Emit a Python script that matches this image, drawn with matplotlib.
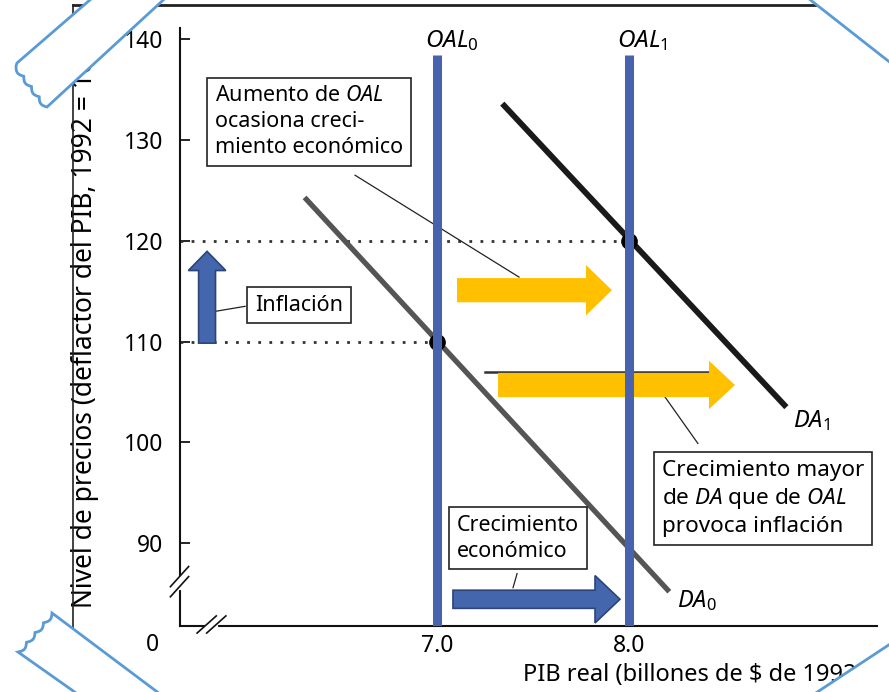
import matplotlib
matplotlib.use("Agg")
import matplotlib.pyplot as plt
import numpy as np
from matplotlib.patches import FancyArrow, Polygon
from matplotlib.lines import Line2D

plt.rcParams["font.family"] = ["Noto Sans", "DejaVu Sans"]
plt.rcParams["mathtext.fontset"] = "custom"
plt.rcParams["mathtext.rm"] = "Noto Sans"
plt.rcParams["mathtext.it"] = "Noto Sans:italic"

# --- data ---------------------------------------------------------------------
y_ticks = [90, 100, 110, 120, 130, 140]
x_ticks = [7.0, 8.0]
x_tick_labels = ["7.0", "8.0"]

oal_x = [7.0, 8.0]
oal_labels = [r"$OAL_0$", r"$OAL_1$"]
oal_top = 138.4

da0_x = [6.31, 8.21]
da0_y = [124.3, 85.2]
da1_x = [7.34, 8.82]
da1_y = [133.6, 103.5]

eq_x = [7.0, 8.0]
eq_y = [110, 120]

# horizontal arrows: tail x, tip x, y, head width
yellow_tail = [7.104, 7.318]
yellow_tip = [7.911, 8.552]
yellow_y = [115.1, 105.7]
yellow_head_w = [5.0, 4.8]
growth_tail, growth_tip, growth_y = 7.083, 7.953, 84.45
infl_x, infl_tail, infl_tip = 5.802, 109.85, 118.95

XMIN, XMAX = 5.661, 9.292
YMIN, YMAX = 81.8, 141.1

W, H = 889, 692


def fpx(x, y):
    """pixel position -> figure fraction (for the tape decorations)."""
    return (x / W, 1 - y / H)


def wavy(p0, p1, n=4, amp=3.0):
    p0, p1 = np.array(p0, float), np.array(p1, float)
    t = np.linspace(0, 1, n * 8 + 1)
    d = p1 - p0
    nrm = np.array([-d[1], d[0]]) / np.hypot(*d)
    pts = p0 + np.outer(t, d) + np.outer(amp * np.abs(np.sin(np.pi * n * t)), nrm)
    return [tuple(p) for p in pts]


fig = plt.figure(figsize=(W / 100, H / 100), dpi=100)
ax = fig.add_axes([180 / W, (H - 626) / H, (877 - 180) / W, (626 - 28) / H])
ax.set_xlim(XMIN, XMAX)
ax.set_ylim(YMIN, YMAX)
for s in ("top", "right"):
    ax.spines[s].set_visible(False)
for s in ("left", "bottom"):
    ax.spines[s].set_linewidth(1.5)
    ax.spines[s].set_color("#111111")

ax.set_yticks(y_ticks)
ax.tick_params(axis="y", direction="in", length=7, width=1.2, labelsize=16.5, pad=12)
ax.set_xticks(x_ticks)
ax.set_xticklabels(x_tick_labels)
ax.tick_params(axis="x", length=0, labelsize=16.5, pad=6)

# dotted guides
ax.plot([XMIN, eq_x[1]], [eq_y[1]] * 2, ls=(0, (1, 3)), lw=2, color="#333333", zorder=2)
ax.plot([XMIN, eq_x[0]], [eq_y[0]] * 2, ls=(0, (1, 3)), lw=2, color="#333333", zorder=2)

# demand curves
ax.plot(da0_x, da0_y, color="#555555", lw=3.8, solid_capstyle="butt", zorder=3)
ax.plot(da1_x, da1_y, color="#1a1a1a", lw=4.2, solid_capstyle="butt", zorder=3)
ax.plot(eq_x, eq_y, "o", color="black", ms=11, zorder=4)

# original thin arrow hidden under the lower yellow arrow
ax.plot([7.25, 8.43], [yellow_y[1] + 1.3] * 2, color="#333333", lw=1.8, zorder=4)

# yellow arrows
for xt, xh, yy, hw in zip(yellow_tail, yellow_tip, yellow_y, yellow_head_w):
    ax.add_patch(FancyArrow(xt, yy, xh - xt, 0, width=2.4, head_width=hw,
                            head_length=0.135, length_includes_head=True,
                            color="#FFC000", lw=0, zorder=5))

# blue arrows
ax.add_patch(FancyArrow(growth_tail, growth_y, growth_tip - growth_tail, 0,
                        width=1.8, head_width=4.7, head_length=0.13,
                        length_includes_head=True, fc="#4466ad", ec="#2c4578",
                        lw=1.2, zorder=5))
ax.add_patch(FancyArrow(infl_x, infl_tail, 0, infl_tip - infl_tail,
                        width=0.088, head_width=0.195, head_length=1.9,
                        length_includes_head=True, fc="#4466ad", ec="#2c4578",
                        lw=1.2, zorder=5))

# OAL vertical lines
for xv, lab in zip(oal_x, oal_labels):
    ax.plot([xv, xv], [YMIN, oal_top], color="#4862ae", lw=6.5,
            solid_capstyle="butt", zorder=6)
    ax.text(xv - 0.065, 139.8, lab, fontsize=17.5, ha="left", va="center")

ax.text(8.354, 84.35, r"$DA_0$", fontsize=17, ha="center", va="center")
ax.text(8.953, 102.2, r"$DA_1$", fontsize=17, ha="center", va="center")

# callout boxes and leader lines
box = dict(boxstyle="square,pad=0.35", fc="white", ec="#222222", lw=1.2)
kw = dict(fontsize=15.5, ha="center", va="center", multialignment="left",
          linespacing=1.3, bbox=box, zorder=7)
ax.text(6.333, 131.8, "Aumento de $OAL$\nocasiona creci-\nmiento económico", **kw)
ax.text(6.281, 113.6, "Inflación", **kw)
kw["fontsize"] = 16.2
ax.text(8.698, 94.45, "Crecimiento mayor\nde $DA$ que de $OAL$\nprovoca inflación", **kw)
kw["fontsize"] = 15.5
ax.text(7.422, 90.5, "Crecimiento\neconómico", **kw)

lk = dict(color="#222222", lw=0.9, zorder=4)
ax.plot([6.573, 7.427], [126.5, 116.4], **lk)
ax.plot([5.844, 6.0], [113.0, 113.5], **lk)
ax.plot([8.188, 8.359], [104.5, 99.9], **lk)
ax.plot([7.417, 7.396], [87.0, 85.6], **lk)

# axis break marks
ax.plot([XMIN, XMIN], [85.6, 86.6], color="white", lw=3, clip_on=False, zorder=8)
for y0 in (86.6, 85.6):
    ax.plot([XMIN - 0.05, XMIN + 0.045], [y0 - 0.9, y0 + 1.1], color="#111111",
            lw=1.2, clip_on=False, zorder=9)
ax.plot([5.80, 5.85], [YMIN, YMIN], color="white", lw=3, clip_on=False, zorder=8)
for x0 in (5.80, 5.85):
    ax.plot([x0 - 0.05, x0 + 0.05], [YMIN - 0.7, YMIN + 1.0], color="#111111",
            lw=1.2, clip_on=False, zorder=9)

ax.text(5.515, 79.9, "0", fontsize=16.5, ha="center", va="center", clip_on=False)
ax.text(5.166, 83.55, "Nivel de precios (deflactor del PIB, 1992 = 100)",
        rotation=90, fontsize=19, ha="center", va="bottom", clip_on=False)
ax.text(7.448, 76.9, r"PIB real (billones de \$ de 1992)", fontsize=17,
        ha="left", va="center", clip_on=False)

# scan frame
fig.add_artist(Line2D([73 / W, 73 / W], [0, 1 - 5 / H], color="#222222", lw=1.2,
                      transform=fig.transFigure, zorder=9))
fig.add_artist(Line2D([73 / W, 1], [1 - 5 / H, 1 - 5 / H], color="#222222", lw=2,
                      transform=fig.transFigure, zorder=9))

# tape pieces at the corners
tape = dict(fc="white", ec="#5b9bd5", lw=2, transform=fig.transFigure, zorder=20)
tl = [(113, -20), (17, 63)] + wavy((16, 66), (47, 107)) + [(185, -20)]
tr = [(785, -20), (915, 82), (915, -20)]
bl = [(103, 712), (18, 652)] + wavy((18, 652), (52, 613)) + [(184, 712)]
br = [(787, 712), (919, 625), (919, 712)]
for poly in (tl, tr, bl, br):
    fig.add_artist(Polygon([fpx(*p) for p in poly], closed=True, **tape))

fig.savefig("out.png", dpi=100)
